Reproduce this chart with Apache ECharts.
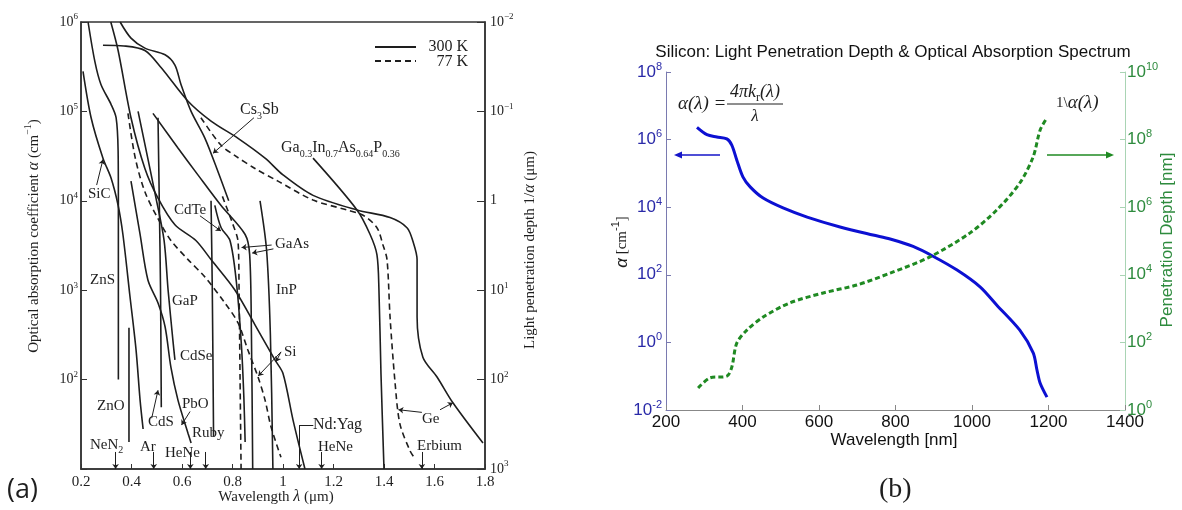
<!DOCTYPE html>
<html><head><meta charset="utf-8">
<script src="https://cdn.jsdelivr.net/npm/echarts@6/dist/echarts.min.js"></script>
<style>html,body{margin:0;padding:0;background:#fff}#c{width:1182px;height:510px}</style>
</head><body><div id="c"></div>
<script>
// ---------- Panel (a): absorption coefficient (cm^-1) vs wavelength (um) ----------
const sic    = [[0.208,2.8e5],[0.24,8.5e4],[0.287,3.0e4],[0.319,1.8e4],[0.347,8.9e3],[0.366,4.2e3],[0.394,850],[0.418,215],[0.434,59],[0.446,28]];
const zns    = [[0.228,1e6],[0.255,3.6e5],[0.279,2.0e5],[0.319,1.2e5],[0.339,8.5e4],[0.347,3.6e4],[0.348,1e4],[0.348,100]];
const si300  = [[0.318,1e6],[0.347,4.8e5],[0.398,8.5e4],[0.453,2.3e4],[0.505,1.07e4],[0.572,5.4e3],[0.655,3.6e3],[0.715,2.2e3],[0.81,1e3],[0.889,410],[0.968,166],[1.0,117],[1.04,35],[1.087,10]];
const si77   = [[0.386,9.5e4],[0.415,3.0e4],[0.453,1.26e4],[0.505,6.3e3],[0.556,3.6e3],[0.624,2.2e3],[0.691,1.4e3],[0.77,720],[0.822,430],[0.861,214],[0.901,107],[0.929,59],[0.952,30],[0.992,13.5]];
const cs3sb  = [[0.355,1e6],[0.398,6.6e5],[0.453,5.1e5],[0.533,4.3e5],[0.572,3.3e5],[0.596,2.0e5],[0.636,1e5],[0.691,5e4],[0.743,2.1e4],[0.785,1e4]];
const ge300  = [[0.287,5.5e5],[0.37,5.4e5],[0.453,4.8e5],[0.517,3.1e5],[0.624,1.3e5],[0.715,7.8e4],[0.822,5e4],[0.929,3.0e4],[1.0,1.95e4],[1.119,1.15e4],[1.293,7.9e3],[1.424,6.5e3],[1.491,5e3],[1.515,3.5e3],[1.531,2.2e3],[1.531,500],[1.554,178],[1.61,107],[1.673,55],[1.792,19.5]];
const ge77   = [[0.675,8.5e4],[0.754,4.2e4],[0.81,3.2e4],[0.889,2.3e4],[0.98,1.66e4],[1.119,1.02e4],[1.253,7.9e3],[1.317,6.9e3],[1.372,5e3],[1.396,3.2e3],[1.412,2.2e3],[1.424,500],[1.444,91],[1.463,32],[1.503,16],[1.523,13]];
const gainasp= [[1.119,3.0e4],[1.293,7.9e3],[1.345,4.2e3],[1.372,2.5e3],[1.38,1e3],[1.388,117],[1.40,10]];
const gap    = [[0.426,1e5],[0.497,1.07e4],[0.529,3.6e3],[0.545,1e3],[0.564,275],[0.572,166]];
const cds    = [[0.505,8.5e4],[0.51,1e4],[0.515,1e3],[0.518,49]];
const pbo    = [[0.398,1.66e4],[0.434,4.2e3],[0.465,1.3e3],[0.505,720],[0.533,390],[0.556,138],[0.584,59],[0.624,25],[0.636,19.5]];
const zno    = [[0.39,380],[0.39,20]];
const cdse   = [[0.715,1e4],[0.72,1e3],[0.725,23]];
const cdte   = [[0.73,8.9e3],[0.755,5e3],[0.79,3.6e3],[0.815,1.26e3],[0.835,250],[0.845,63],[0.85,20]];
const gaas300= [[0.485,9.5e4],[0.584,3.9e4],[0.663,1.95e4],[0.754,8.9e3],[0.85,4.2e3],[0.868,2.5e3],[0.875,320],[0.88,10]];
const gaas77 = [[0.76,1.12e4],[0.80,5.6e3],[0.822,3.5e3],[0.826,1e3],[0.83,100],[0.834,10]];
const inp    = [[0.909,1e4],[0.935,2.8e3],[0.95,320],[0.96,10]];
const laserWavelengths = [0.337,0.488,0.633,0.694,1.153,1.55];
const ndYag = 1.064;

// ---------- Panel (b): Silicon ----------
const lambdaAlpha = [281,307,333,359,372,385,401,420,454,506,569,655,741,786,846,898,961,1021,1065,1125,1160,1170,1178,1196];
const alphaSi     = [2.3e6,1.4e6,1.2e6,1.05e6,6.9e5,2.5e5,7.9e4,4.0e4,1.86e4,9.5e3,5.1e3,2.6e3,1.5e3,1.15e3,690,355,138,44,12.6,2.3,0.49,0.15,0.063,0.024];
const lambdaDepth = [284,315,359,372,385,412,454,524,611,699,786,890,995,1065,1125,1160,1178,1196];
const depthSi     = [4.5,8.9,10,18.6,95,234,562,1480,2900,5000,11200,33900,174000,832000,5.2e6,3.1e7,1.9e8,4.4e8];

const chart = echarts.init(document.getElementById('c'), null, {renderer:'canvas'});
const SERIF = '"Liberation Serif", "DejaVu Serif", serif';
const SANS = '"Liberation Sans", Arial, sans-serif';
const INK = '#1e1e1e';

function zip(xs, ys){ return xs.map((x,i)=>[x, ys[i]]); }
function expOf(v){ return Math.round(Math.log10(v)); }
function supRich(font, size, color){
  return { b:{fontFamily:font,fontSize:size,lineHeight:size+5,color:color},
           s:{fontFamily:font,fontSize:Math.round(size*0.65),lineHeight:Math.round(size*0.65),verticalAlign:'top',color:color} };
}

function curve(data, dashed){
  return {type:'line', xAxisIndex:0, yAxisIndex:0, data:data, showSymbol:false, smooth:0.3, silent:true,
          lineStyle:{color:INK, width:1.6, type: dashed ? [6,4] : 'solid'}, z:3};
}

const leaderSegs = [
  [[0.885,8.5e4],[0.723,3.4e4]],
  [[0.262,1.5e4],[0.287,2.9e4]],
  [[0.671,6.8e3],[0.754,4.6e3]],
  [[0.955,3.2e3],[0.836,3.0e3]],
  [[0.962,2.9e3],[0.878,2.6e3]],
  [[0.992,204],[0.902,110]],
  [[0.992,204],[0.972,158]],
  [[0.48,37],[0.505,76]],
  [[0.632,44],[0.598,31]],
  [[1.55,43],[1.457,46]],
  [[1.622,46],[1.673,55]]
];
const laserSegs = laserWavelengths.map(w=>[[w,15.5],[w,10]]).concat([[[ndYag,31],[ndYag,10]]]);

const series = [
  curve(sic), curve(zns), curve(si300), curve(si77,true), curve(cs3sb), curve(ge300), curve(ge77,true),
  curve(gainasp), curve(gap), curve(cds), curve(pbo), curve(zno), curve(cdse), curve(cdte),
  curve(gaas300), curve(gaas77,true), curve(inp),
  {type:'lines', coordinateSystem:'cartesian2d', xAxisIndex:0, yAxisIndex:0, silent:true,
   symbol:['none','arrow'], symbolSize:[0,5], lineStyle:{color:INK,width:1,opacity:1},
   data: leaderSegs.concat(laserSegs).map(c=>({coords:c}))},
  {type:'lines', coordinateSystem:'cartesian2d', xAxisIndex:0, yAxisIndex:0, silent:true,
   symbol:['none','none'], lineStyle:{color:INK,width:1,opacity:1},
   data:[{coords:[[1.12,31],[ndYag,31]]}]},
  {type:'line', xAxisIndex:1, yAxisIndex:2, data:zip(lambdaAlpha, alphaSi), showSymbol:false, smooth:0.3, silent:true,
   lineStyle:{color:'#0c10d2', width:3}},
  {type:'line', xAxisIndex:1, yAxisIndex:3, data:zip(lambdaDepth, depthSi), showSymbol:false, smooth:0.3, silent:true,
   lineStyle:{color:'#1f8a22', width:3, type:[5,3]}}
];

function txt(x, y, text, opts){
  opts = opts || {};
  return {type:'text', x:x, y:y, rotation: opts.rot || 0, silent:true, z:10,
    style:{text:text, fill: opts.color || INK, fontFamily: opts.font || SERIF, fontSize: opts.size || 15,
           fontStyle: opts.style || 'normal', align: opts.align || 'left', verticalAlign: opts.va || 'middle',
           rich: opts.rich}};
}
function subRich(size, color, font){
  font = font || SERIF; color = color || INK;
  const small = Math.round(size*0.65);
  return { n:{fontFamily:font,fontSize:size,lineHeight:size+6,color:color},
           d:{fontFamily:font,fontSize:small,lineHeight:small,verticalAlign:'bottom',color:color},
           u:{fontFamily:font,fontSize:small,lineHeight:small,verticalAlign:'top',color:color},
           i:{fontFamily:font,fontSize:size,lineHeight:size+6,color:color,fontStyle:'italic'} };
}
function arrowG(x1,y1,x2,y2,color){
  const a=Math.atan2(y2-y1,x2-x1), L=8, W=3.5;
  const bx=x2-L*Math.cos(a), by=y2-L*Math.sin(a), px=-Math.sin(a)*W, py=Math.cos(a)*W;
  return [{type:'line',silent:true,shape:{x1:x1,y1:y1,x2:bx,y2:by},style:{stroke:color,lineWidth:1.5}},
          {type:'polygon',silent:true,shape:{points:[[x2,y2],[bx+px,by+py],[bx-px,by-py]]},style:{fill:color}}];
}

const R15 = subRich(15);
const R16 = subRich(16);
const graphics = [
  // legend
  {type:'line',silent:true,shape:{x1:375,y1:47,x2:416,y2:47},style:{stroke:INK,lineWidth:1.8}},
  {type:'line',silent:true,shape:{x1:375,y1:61,x2:416,y2:61},style:{stroke:INK,lineWidth:1.8,lineDash:[6,4]}},
  txt(468,47,'300 K',{align:'right',size:16}),
  txt(468,62,'77 K',{align:'right',size:16}),
  // material labels
  txt(240,110,'{n|Cs}{d|3}{n|Sb}',{rich:R16}),
  txt(281,148,'{n|Ga}{d|0.3}{n|In}{d|0.7}{n|As}{d|0.64}{n|P}{d|0.36}',{rich:R16}),
  txt(88,194,'SiC'), txt(174,210,'CdTe'), txt(275,244,'GaAs'), txt(90,280,'ZnS'),
  txt(276,290,'InP'), txt(172,301,'GaP'), txt(180,356,'CdSe'), txt(284,352,'Si'),
  txt(97,406,'ZnO'), txt(182,404,'PbO'), txt(148,422,'CdS'), txt(192,433,'Ruby'),
  txt(90,445,'{n|NeN}{d|2}',{rich:R15}), txt(140,447,'Ar'), txt(165,453,'HeNe'),
  txt(313,425,'Nd:Yag',{size:16}), txt(318,447,'HeNe'), txt(422,419,'Ge'), txt(417,446,'Erbium'),
  // axis titles (a)
  txt(34,236,'Optical absorption coefficient {i|α} (cm{u|−1})',{rot:Math.PI/2,align:'center',rich:R16}),
  txt(530,250,'Light penetration depth 1/{i|α} (μm)',{rot:Math.PI/2,align:'center',rich:R16}),
  txt(276,497,'Wavelength {i|λ} (μm)',{align:'center',rich:R16}),
  txt(7,490,'(a)',{font:'"Open Sans", "Liberation Sans", sans-serif',size:27}),
  // panel (b)
  txt(893,52,'Silicon: Light Penetration Depth & Optical Absorption Spectrum',{font:SANS,size:17,align:'center',color:'#111'}),
  txt(678,104,'α(λ) =',{style:'italic',size:19}),
  txt(755,92,'{i|4πk}{d|r}{i|(λ)}',{align:'center',rich:subRich(18)}),
  {type:'line',silent:true,shape:{x1:727,y1:104,x2:783,y2:104},style:{stroke:INK,lineWidth:1}},
  txt(755,117,'λ',{style:'italic',size:17,align:'center'}),
  ...arrowG(720,155,674,155,'#1515c8'),
  txt(1056,103,'1\\{i|α(λ)}',{rich:subRich(19)}),
  ...arrowG(1047,155,1114,155,'#1f8a22'),
  txt(622,242,'{i|α} [cm{u|-1}]',{rot:Math.PI/2,align:'center',rich:subRich(17,'#2a2aa8',SANS)}),
  txt(1167,240,'Penetration Depth [nm]',{rot:Math.PI/2,align:'center',font:SANS,size:17,color:'#2e8b3e'}),
  txt(894,440,'Wavelength [nm]',{font:SANS,size:17,align:'center',color:'#111'}),
  txt(879,490,'(b)',{size:28})
];

const richA = supRich(SERIF,14,INK);
const option = {
  backgroundColor:'#fff',
  animation:false,
  grid:[
    {left:81, top:22, width:404, height:447, show:true, borderColor:'#333', borderWidth:1.5, backgroundColor:'transparent'},
    {left:666, top:72, width:459, height:338, show:false}
  ],
  xAxis:[
    {type:'value', gridIndex:0, min:0.2, max:1.8, interval:0.2,
     axisLine:{lineStyle:{color:'#333',width:1.5}}, axisTick:{inside:true,length:5,lineStyle:{color:'#333'}},
     splitLine:{show:false},
     axisLabel:{margin:6, fontFamily:SERIF, fontSize:15, color:INK, formatter:v=>String(+v.toFixed(1))}},
    {type:'value', gridIndex:1, min:200, max:1400, interval:200,
     axisLine:{lineStyle:{color:'#888',width:1}}, axisTick:{inside:true,length:5,lineStyle:{color:'#888'}},
     splitLine:{show:false},
     axisLabel:{margin:4, fontFamily:SANS, fontSize:17, color:'#111', formatter:v=>String(Math.round(v))}}
  ],
  yAxis:[
    {type:'log', logBase:10, gridIndex:0, min:10, max:1e6, interval:1, position:'left',
     axisLine:{show:true,lineStyle:{color:'#333',width:1.5}}, axisTick:{show:true,inside:true,length:6,lineStyle:{color:'#333'}},
     splitLine:{show:false}, minorTick:{show:false},
     axisLabel:{margin:3, rich:richA, formatter:v=>{const e=expOf(v); return e<=1?'':'{b|10}{s|'+e+'}';}}},
    {type:'log', logBase:10, gridIndex:0, min:0.01, max:1000, interval:1, position:'right', inverse:true,
     axisLine:{show:true,lineStyle:{color:'#333',width:1.5}}, axisTick:{show:true,inside:true,length:8,lineStyle:{color:'#333'}},
     splitLine:{show:false},
     axisLabel:{margin:5, rich:richA, formatter:v=>{const e=expOf(v); return e===0?'{b|1}':'{b|10}{s|'+(e<0?'−'+(-e):e)+'}';}}},
    {type:'log', logBase:10, gridIndex:1, min:0.01, max:1e8, interval:2, position:'left',
     axisLine:{show:true,lineStyle:{color:'#7a7ab0',width:1}}, axisTick:{show:true,inside:true,length:5,lineStyle:{color:'#7a7ab0'}},
     splitLine:{show:false},
     axisLabel:{margin:4, rich:supRich(SANS,17,'#2a2aa8'), formatter:v=>{const e=expOf(v); return '{b|10}{s|'+e+'}';}}},
    {type:'log', logBase:10, gridIndex:1, min:1, max:1e10, interval:2, position:'right',
     axisLine:{show:true,lineStyle:{color:'#a9d4b4',width:1}}, axisTick:{show:true,inside:true,length:5,lineStyle:{color:'#a9d4b4'}},
     splitLine:{show:false},
     axisLabel:{margin:2, rich:supRich(SANS,17,'#2e8b3e'), formatter:v=>{const e=expOf(v); return '{b|10}{s|'+e+'}';}}}
  ],
  series: series,
  graphic: graphics
};
chart.setOption(option);
</script></body></html>
